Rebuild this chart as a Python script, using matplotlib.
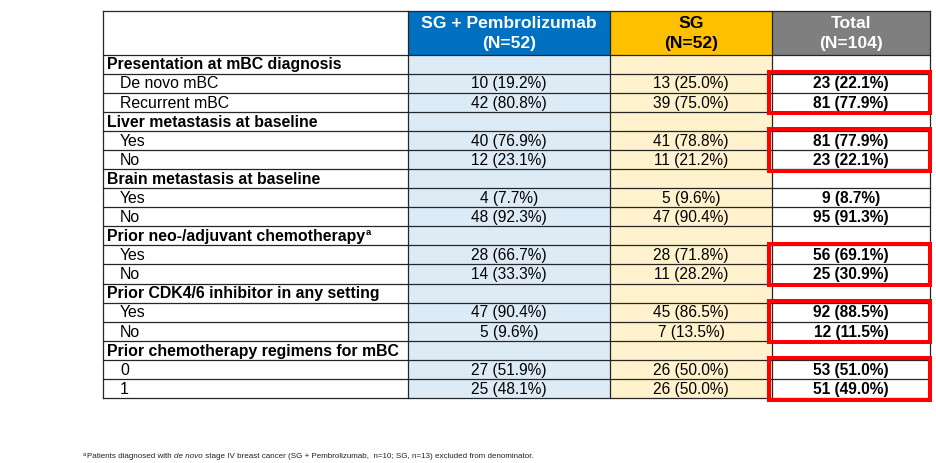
import matplotlib
matplotlib.use("Agg")
import matplotlib.pyplot as plt
from matplotlib.patches import Rectangle

plt.rcParams['font.family'] = ['Liberation Sans', 'DejaVu Sans']

# ---------------- data ----------------
col_headers = ["SG + Pembrolizumab\n(N=52)", "SG\n(N=52)", "Total\n(N=104)"]
sections = [
    "Presentation at mBC diagnosis",
    "Liver metastasis at baseline",
    "Brain metastasis at baseline",
    "Prior neo-/adjuvant chemotherapy",
    "Prior CDK4/6 inhibitor in any setting",
    "Prior chemotherapy regimens for mBC",
]
section_footnote = [False, False, False, True, False, False]
sub_labels = [
    ["De novo mBC", "Recurrent mBC"],
    ["Yes", "No"],
    ["Yes", "No"],
    ["Yes", "No"],
    ["Yes", "No"],
    ["0", "1"],
]
sgp_n = [[10, 42], [40, 12], [4, 48], [28, 14], [47, 5], [27, 25]]
sgp_pct = [[19.2, 80.8], [76.9, 23.1], [7.7, 92.3], [66.7, 33.3], [90.4, 9.6], [51.9, 48.1]]
sg_n = [[13, 39], [41, 11], [5, 47], [28, 11], [45, 7], [26, 26]]
sg_pct = [[25.0, 75.0], [78.8, 21.2], [9.6, 90.4], [71.8, 28.2], [86.5, 13.5], [50.0, 50.0]]
tot_n = [[23, 81], [81, 23], [9, 95], [56, 25], [92, 12], [53, 51]]
tot_pct = [[22.1, 77.9], [77.9, 22.1], [8.7, 91.3], [69.1, 30.9], [88.5, 11.5], [51.0, 49.0]]
highlighted = [True, True, False, True, True, True]
footnote_parts = [("Patients diagnosed with ", "normal"), ("de novo", "italic"),
                  (" stage IV breast cancer (SG + Pembrolizumab,  n=10; SG, n=13) excluded from denominator.", "normal")]

# ---------------- layout (pixels) ----------------
W, H = 937, 463
fig = plt.figure(figsize=(W / 100, H / 100), dpi=100)
ax = fig.add_axes([0, 0, 1, 1])
ax.set_xlim(0, W)
ax.set_ylim(H, 0)
ax.axis('off')

col_x = [103, 408, 610, 772, 930]
head_top, head_bot = 11, 54.5
n_rows = sum(1 + len(s) for s in sub_labels)
row_h = (398 - head_bot) / n_rows
line_c = '#262626'
lw = 0.9
head_fill = ['#0070C0', '#FFC000', '#7F7F7F']
head_txt = ['white', 'black', 'white']
body_fill = ['white', '#DDEBF7', '#FFF2CC', 'white']
fs = 11.4
vfs = 11.2
hfs = 12.6

# backgrounds
for j in range(3):
    ax.add_patch(Rectangle((col_x[j + 1], head_top), col_x[j + 2] - col_x[j + 1], head_bot - head_top,
                           facecolor=head_fill[j], edgecolor='none', zorder=1))
    ax.text((col_x[j + 1] + col_x[j + 2]) / 2, (head_top + head_bot) / 2 + 1, col_headers[j],
            ha='center', va='center', fontsize=hfs, fontweight='bold', color=head_txt[j],
            linespacing=1.42, zorder=3)
for j in range(4):
    ax.add_patch(Rectangle((col_x[j], head_bot), col_x[j + 1] - col_x[j], 398 - head_bot,
                           facecolor=body_fill[j], edgecolor='none', zorder=1))

fig.canvas.draw()
renderer = fig.canvas.get_renderer()
inv = ax.transData.inverted()

r = 0
boxes = []
for s, sec in enumerate(sections):
    y0 = head_bot + r * row_h
    yc = y0 + row_h / 2 + 0.8
    t = ax.text(col_x[0] + 4, yc, sec, ha='left', va='center', fontsize=fs, fontweight='bold', zorder=3)
    if section_footnote[s]:
        bb = t.get_window_extent(renderer)
        xe = inv.transform((bb.x1, bb.y1))[0]
        ax.text(xe + 0.5, yc - 4, "a", ha='left', va='center', fontsize=fs * 0.6, fontweight='bold', zorder=3)
    r += 1
    top = head_bot + r * row_h
    for k, lab in enumerate(sub_labels[s]):
        y0 = head_bot + r * row_h
        yc = y0 + row_h / 2 + 0.8
        ax.text(col_x[0] + 17, yc, lab, ha='left', va='center', fontsize=fs, zorder=3)
        vals = [(sgp_n, sgp_pct, 'normal'), (sg_n, sg_pct, 'normal'), (tot_n, tot_pct, 'bold')]
        for j, (nn, pp, wt) in enumerate(vals):
            ax.text((col_x[j + 1] + col_x[j + 2]) / 2, yc, f"{nn[s][k]} ({pp[s][k]:.1f}%)",
                    ha='center', va='center', fontsize=vfs, fontweight=wt, zorder=3)
        r += 1
    bottom = head_bot + r * row_h
    if highlighted[s]:
        boxes.append((top, bottom))

# grid lines
ys = [head_bot + i * row_h for i in range(n_rows + 1)]
ax.plot([col_x[0], col_x[-1]], [head_top, head_top], color=line_c, lw=lw, zorder=4)
for y in ys:
    ax.plot([col_x[0], col_x[-1]], [y, y], color=line_c, lw=lw, zorder=4)
for x in col_x:
    ax.plot([x, x], [head_top, ys[-1]], color=line_c, lw=lw, zorder=4)

# red highlight boxes
for top, bottom in boxes:
    ax.add_patch(Rectangle((769, top - 1.5), 930 - 769, bottom - top + 3, facecolor='none',
                           edgecolor='#FF0000', lw=2.9, zorder=5))

# footnote
fx, fy = 83, 457
ax.text(fx, fy - 2, "a", ha='left', va='center', fontsize=4.2, zorder=3, color='#222222')
x = fx + 4.5
for txt, style in footnote_parts:
    t = ax.text(x, fy, txt, ha='left', va='center', fontsize=5.8, style=style, color='#222222', zorder=3)
    bb = t.get_window_extent(renderer)
    x = inv.transform((bb.x1, bb.y1))[0]

fig.savefig("out.png", dpi=100)
